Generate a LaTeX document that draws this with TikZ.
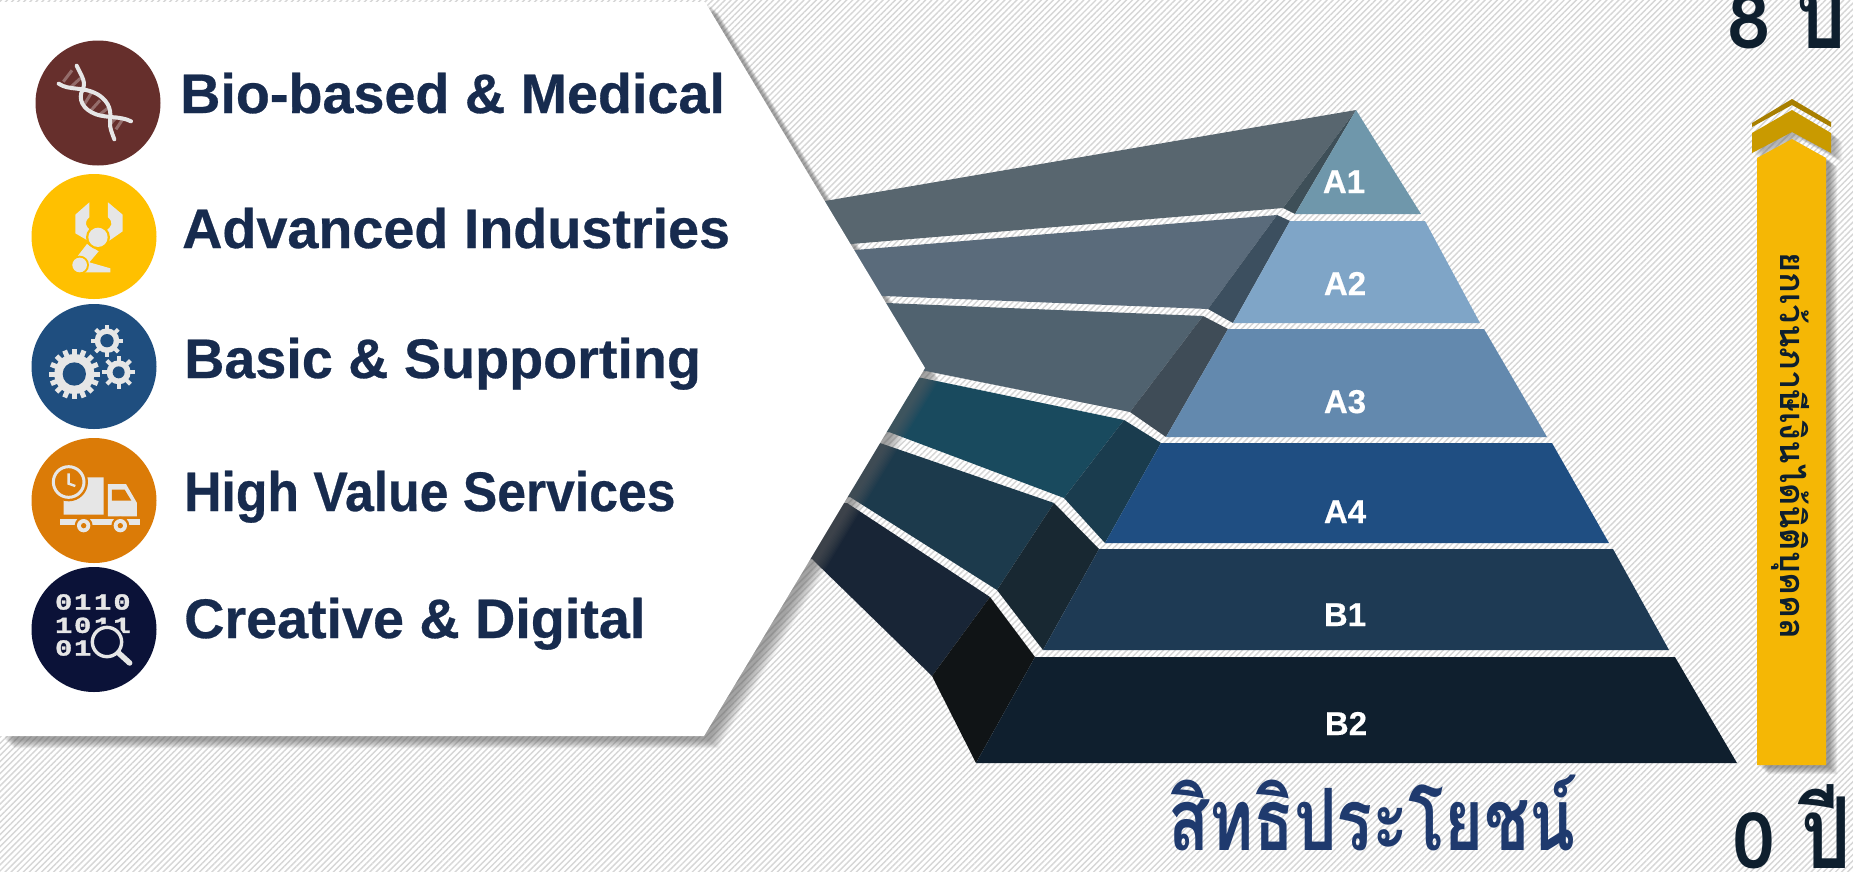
\documentclass[tikz,border=0pt]{standalone}
\usepackage{fontspec}
\setmainfont[BoldFeatures={FakeBold=0.5}]{Liberation Sans}
\setmonofont[BoldFeatures={FakeBold=1.4}]{Liberation Mono}
\newfontfamily\thaifont[Script=Thai]{Loma}
\usetikzlibrary{patterns.meta}
\definecolor{inktext}{HTML}{172B4E}
\definecolor{iconc}{HTML}{E6E6E6}
\definecolor{hatchc}{HTML}{D6D6D6}
\definecolor{cOne}{HTML}{662F2C}
\definecolor{cTwo}{HTML}{FFC000}
\definecolor{cThree}{HTML}{1F4E7F}
\definecolor{cFour}{HTML}{DB7B07}
\definecolor{cFive}{HTML}{0B1238}
\definecolor{pyrdark}{HTML}{0E1F2E}
\definecolor{benefitc}{HTML}{1F3A6E}
\definecolor{bandA}{HTML}{58666F}
\definecolor{sideA}{HTML}{3E4F58}
\definecolor{bandB}{HTML}{5A6B7B}
\definecolor{sideB}{HTML}{3C4F5F}
\definecolor{bandC}{HTML}{50626F}
\definecolor{sideC}{HTML}{3F4C57}
\definecolor{bandD}{HTML}{194A5E}
\definecolor{sideD}{HTML}{1A3C4E}
\definecolor{bandE}{HTML}{1C3A4C}
\definecolor{sideE}{HTML}{182832}
\definecolor{bandF}{HTML}{182536}
\definecolor{sideF}{HTML}{101416}
\definecolor{faceA}{HTML}{6F97AB}
\definecolor{faceB}{HTML}{7FA5C7}
\definecolor{faceC}{HTML}{6389AE}
\definecolor{faceD}{HTML}{1F4E82}
\definecolor{faceE}{HTML}{1E3A54}
\definecolor{faceF}{HTML}{0F1F2E}
\definecolor{chevA}{HTML}{A87F00}
\definecolor{chevB}{HTML}{C99A00}
\definecolor{shaftc}{HTML}{F5B705}
\definecolor{shadowc}{HTML}{606060}
\tikzset{
  lab/.style={anchor=base west,inner sep=0pt,text=inktext,font=\bfseries\fontsize{55.7}{56}\selectfont},
  pyr/.style={anchor=base,inner sep=0pt,text=white,font=\bfseries\fontsize{33}{33}\selectfont},
  thaibig/.style={anchor=base west,inner sep=0pt,text=pyrdark,font=\thaifont\bfseries\fontsize{78}{78}\selectfont},
  bit/.style={inner sep=0pt,text=iconc,xscale=1.25,font=\ttfamily\bfseries\fontsize{23}{23}\selectfont},
  badge/.style={circle,minimum size=125pt,inner sep=0pt},
}
\newcommand{\mygear}[7]{%
  \begin{scope}[shift={(#1,#2)}]
    \fill[iconc] (0,0) circle (#3);
    \foreach \k in {1,...,#6}{
      \draw[iconc,line width=#7pt] (\k*360/#6:#3-2) -- (\k*360/#6:#4);
    }
  \end{scope}%
}
\begin{document}
\begin{tikzpicture}[x=1pt,y=-1pt]
\useasboundingbox (0,0) rectangle (1853,871);
\fill[white] (0,0) rectangle (1853,871);
\fill[pattern={Lines[angle=45,distance=4.3pt,line width=1.4pt]},pattern color=hatchc] (0,0) rectangle (1853,871);

% lower bands (the panel's shadow falls on them)
\fill[bandD] (900,374) -- (922,378) -- (1124,420) -- (1064,498) -- (889,432) -- (860,432) -- cycle;
\fill[sideD] (1124,420) -- (1161,443) -- (1105,543) -- (1064,498) -- cycle;
\fill[bandE] (860,443) -- (880,443) -- (1054,503) -- (997,590) -- (850,497) -- (830,497) -- cycle;
\fill[sideE] (1054,503) -- (1099,549) -- (1043,650) -- (997,590) -- cycle;
\fill[bandF] (830,503) -- (847,503) -- (990,597) -- (932,676) -- (812,559) -- (790,559) -- cycle;
\fill[sideF] (990,597) -- (1035,657) -- (976,763) -- (932,676) -- cycle;

% panel shadow
\foreach \i in {0,...,9}{
  \fill[shadowc,opacity=0.08,shift={(5+\i,4+0.9*\i)}] (0,2) -- (705,2) -- (925,368) -- (704,736) -- (0,736) -- cycle;
}

% upper bands
\fill[bandA] (800,206) -- (825,201) -- (1356,110) -- (1283,208) -- (851,244) -- (830,244) -- cycle;
\fill[sideA] (1356,110) -- (1295,214) -- (1283,208) -- cycle;
\fill[bandB] (830,250) -- (855,250) -- (1277,215) -- (1208,309) -- (884,296) -- (860,296) -- cycle;
\fill[sideB] (1277,215) -- (1290,221) -- (1233,323) -- (1208,309) -- cycle;
\fill[bandC] (860,303) -- (887,303) -- (1203,316) -- (1130,412) -- (926,371) -- (900,371) -- cycle;
\fill[sideC] (1203,316) -- (1228,329) -- (1166,437) -- (1130,412) -- cycle;

% pyramid faces
\fill[faceA] (1356,110) -- (1421,214) -- (1295,214) -- cycle;
\fill[faceB] (1290,221) -- (1425,221) -- (1480,323) -- (1233,323) -- cycle;
\fill[faceC] (1228,329) -- (1484,329) -- (1547,437) -- (1166,437) -- cycle;
\fill[faceD] (1161,443) -- (1552,443) -- (1609,543) -- (1105,543) -- cycle;
\fill[faceE] (1099,549) -- (1613,549) -- (1669,650) -- (1043,650) -- cycle;
\fill[faceF] (1035,657) -- (1675,657) -- (1737,763) -- (976,763) -- cycle;

% white panel
\fill[white] (-20,2) -- (705,2) -- (925,368) -- (704,736) -- (-20,736) -- cycle;

% pyramid labels
\node[pyr] (a1) at (1344,193) {A1};
\node[pyr] (a2) at (1345,295) {A2};
\node[pyr] (a3) at (1345,413) {A3};
\node[pyr] (a4) at (1345,523) {A4};
\node[pyr] (b1) at (1345,626) {B1};
\node[pyr] (b2) at (1346,735) {B2};

% badges
\node[badge,fill=cOne] (c1) at (98,103) {};
\node[badge,fill=cTwo] (c2) at (94,236.5) {};
\node[badge,fill=cThree] (c3) at (94,366.5) {};
\node[badge,fill=cFour] (c4) at (94,500.5) {};
\node[badge,fill=cFive] (c5) at (94,629.5) {};

% DNA icon
\begin{scope}[shift={(36,41)},x=0.3333pt,y=-0.3333pt]
  \foreach \a/\b/\c/\d in {108/88/82/122,133/112/100/142,170/150/145/190,192/178/165/208,215/202/185/225,262/232/240/265,245/225/222/250}{
    \draw[white,opacity=0.3,line width=3pt] (\a,\b) -- (\c,\d);
  }
  \draw[iconc,line width=4pt,line cap=round] (122,74) .. controls (140,110) and (150,125) .. (140,145) .. controls (125,175) and (140,205) .. (180,220) .. controls (215,232) and (255,225) .. (285,241);
  \draw[iconc,line width=4pt,line cap=round] (68,128) .. controls (100,150) and (140,135) .. (185,160) .. controls (225,185) and (225,215) .. (222,240) .. controls (220,260) and (228,275) .. (235,295);
\end{scope}

% robot icon
\begin{scope}[shift={(32,174)},x=0.3333pt,y=-0.3333pt]
  \fill[iconc] (172,85) -- (130,122) -- (130,178) -- (168,200) -- (178,170) .. controls (160,158) and (155,145) .. (172,130) -- cycle;
  \fill[iconc] (228,85) -- (272,122) -- (272,172) -- (232,200) -- (222,170) .. controls (240,158) and (245,145) .. (228,130) -- cycle;
  \fill[iconc] (165,210) -- (200,232) -- (172,265) -- (235,283) -- (235,295) -- (150,295) -- (125,262) -- cycle;
  \fill[cTwo] (198,190) circle (36);
  \fill[iconc] (198,190) circle (29);
  \fill[cTwo] (143,273) circle (28);
  \fill[iconc] (143,273) circle (22);
\end{scope}

% gears icon
\begin{scope}[shift={(32,304)},x=0.3333pt,y=-0.3333pt]
  \mygear{127}{210}{60}{76}{35}{16}{5}
  \fill[cThree] (127,210) circle (35);
  \mygear{225}{110}{37}{48}{20}{8}{4}
  \fill[cThree] (225,110) circle (20);
  \fill[cThree] (260,205) circle (44);
  \mygear{260}{205}{36}{50}{18}{8}{4}
  \fill[cThree] (260,205) circle (18);
\end{scope}

% truck icon
\begin{scope}[shift={(32,438)},x=0.3333pt,y=-0.3333pt]
  \fill[iconc] (150,118) -- (215,118) -- (215,230) -- (95,230) -- (95,170) -- cycle;
  \fill[iconc] (228,138) -- (282,138) -- (315,195) -- (315,235) -- (228,235) -- cycle;
  \fill[cFour] (240,155) -- (278,155) -- (298,188) -- (240,188) -- cycle;
  \fill[iconc] (85,242) rectangle (325,260);
  \fill[cFour] (155,263) circle (27);
  \fill[cFour] (265,263) circle (27);
  \fill[iconc] (155,263) circle (20);
  \fill[iconc] (265,263) circle (20);
  \fill[cFour] (155,263) circle (8);
  \fill[cFour] (265,263) circle (8);
  \fill[cFour] (110,132) circle (58);
  \draw[iconc,line width=3pt] (110,132) circle (46);
  \draw[iconc,line width=2.4pt] (110,106) -- (110,137) -- (130,144);
\end{scope}

% binary icon
\begin{scope}[shift={(32,567)},x=0.3333pt,y=-0.3333pt]
  \foreach \nm/\px/\py/\t in {p/95/105/0,q/152/105/1,r/212/105/1,s/270/105/0,
                              t/95/175/1,u/152/175/0,v/212/175/1,w/270/175/1,
                              m/95/243/0,n/152/243/1}{
    \node[bit] (bit\nm) at (\px,\py) {\t};
  }
  \fill[cFive] (225,225) circle (55);
  \draw[iconc,line width=3.4pt] (225,225) circle (44);
  \draw[iconc,line width=5.5pt,line cap=round] (260,258) -- (293,288);
\end{scope}

% list labels
\node[lab] (l1) at (180,113) {Bio-based \& Medical};
\node[lab] (l2) at (182,248) {Advanced Industries};
\node[lab] (l3) at (184,378) {Basic \& Supporting};
\node[lab,xscale=0.928] (l4) at (184,511) {High Value Services};
\node[lab] (l5) at (184,638) {Creative \& Digital};

% arrow
\foreach \i in {0,...,9}{
  \begin{scope}[shift={(3+0.9*\i,2+0.8*\i)}]
    \fill[shadowc,opacity=0.085] (1757,158) -- (1792,139) -- (1826,158) -- (1826,765) -- (1757,765) -- cycle;
    \fill[shadowc,opacity=0.06] (1752,133) -- (1792,110) -- (1831,133) -- (1831,153) -- (1792,132) -- (1752,153) -- cycle;
  \end{scope}
}
\fill[chevA] (1752,123) -- (1792,99) -- (1831,122) -- (1831,127) -- (1792,105) -- (1752,127) -- cycle;
\fill[chevB] (1752,133) -- (1792,110) -- (1831,133) -- (1831,153) -- (1792,132) -- (1752,153) -- cycle;
\fill[shaftc] (1757,158) -- (1792,139) -- (1826,158) -- (1826,765) -- (1757,765) -- cycle;
\node[rotate=-90,anchor=base,inner sep=0pt,text=pyrdark,font=\thaifont\bfseries\fontsize{34.3}{35}\selectfont] (exempt) at (1780,446) {ยกเว้นภาษีเงินได้นิติบุคคล};

% Thai captions
\node[anchor=base west,inner sep=0pt,xscale=0.78,text=benefitc,font=\thaifont\bfseries\fontsize{86}{86}\selectfont] (benefit) at (1168,850) {สิทธิประโยชน์};
\node[thaibig] (top8) at (1727,48) {8 \scalebox{1}[1.27]{ปี}};
\node[thaibig] (bot0) at (1732,868) {0 \scalebox{1}[1.27]{ปี}};
\end{tikzpicture}
\end{document}
